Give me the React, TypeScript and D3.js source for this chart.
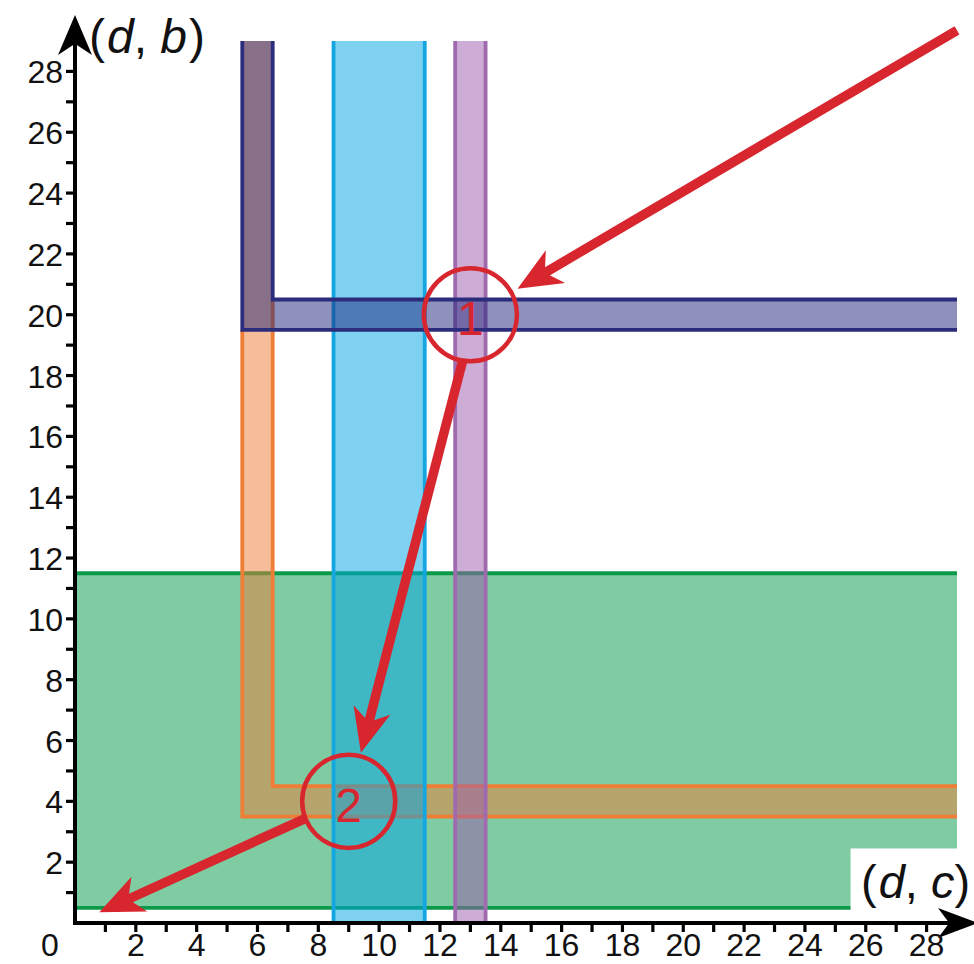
import React from "react"
import { scaleLinear, range, line } from "d3"

// value intervals on the (d,c) / (d,b) plane
const greenRows = [0.5, 11.5]
const cyanCols = [8.5, 11.5]
const purpleCols = [12.5, 13.5]
const orangeCorner = [5.5, 3.5]
const navyCorner = [5.5, 19.5]
const bandWidth = 1
const axisMax = 29

const circleCenters = [[13, 20], [9, 4]]
const circleLabels = ["1", "2"]
const circleRadius = 1.53

const arrowStarts = [[29, 29.35], [12.75, 18.5], [7.6, 3.45]]
const arrowEnds = [[14.55, 20.85], [9.4, 5.6], [0.8, 0.35]]

const minorTicks = range(1, 29)
const tickLabels = range(2, 29, 2)

const RED = "#d8262f"
const FONT = "'Liberation Sans', Arial, Helvetica, sans-serif"

function barbHead(tip: number[], from: number[], len: number, half: number) {
  const dx = tip[0] - from[0]
  const dy = tip[1] - from[1]
  const d = Math.hypot(dx, dy)
  const ux = dx / d, uy = dy / d
  const nx = -uy, ny = ux
  const bx = tip[0] - ux * len, by = tip[1] - uy * len
  const notch = [tip[0] - ux * len * 0.72, tip[1] - uy * len * 0.72]
  return {
    d: `M${tip[0]},${tip[1]} L${bx + nx * half},${by + ny * half} L${notch[0]},${notch[1]} L${bx - nx * half},${by - ny * half} Z`,
    notch
  }
}

export default function App() {
  const W = 974
  const H = 964
  const x = scaleLinear().domain([0, axisMax]).range([75, 957])
  const y = scaleLinear().domain([0, axisMax]).range([923, 41])
  const px = (v: number[]) => [x(v[0]), y(v[1])] as [number, number]
  const path = line<number[]>().x(d => x(d[0])).y(d => y(d[1]))

  const green = { fill: "#009a48", stroke: "#0c9a4a" }
  const cyan = { fill: "#00a3e6", stroke: "#14a6e1" }
  const orange = { fill: "#ec7b35", stroke: "#ee7d36" }
  const purple = { fill: "#9b5aab", stroke: "#a06aae" }
  const navy = { fill: "#1e2378", stroke: "#2b2c7c" }
  const bandStroke = 3.8

  // L-shaped band: vertical leg from corner up to the top, horizontal leg to the right edge
  const lShape = (c: number[], top: number) => [
    [c[0], top], [c[0], c[1]], [axisMax, c[1]], [axisMax, c[1] + bandWidth],
    [c[0] + bandWidth, c[1] + bandWidth], [c[0] + bandWidth, top]
  ]

  const yAxisHead = barbHead([x(0), 15], [x(0), 100], 40, 17)
  const xAxisHead = barbHead([978, y(0)], [900, y(0)], 40, 15)

  return (
    <svg width={W} height={H} style={{ position: "absolute", left: 0, top: 0, background: "white" }}>
      {/* green band */}
      <rect x={x(0)} y={y(greenRows[1])} width={x(axisMax) - x(0)} height={y(greenRows[0]) - y(greenRows[1])}
        fill={green.fill} fillOpacity={0.5} />
      {greenRows.map(v => (
        <line key={`g${v}`} x1={x(0)} x2={x(axisMax)} y1={y(v)} y2={y(v)} stroke={green.stroke} strokeWidth={bandStroke} />
      ))}

      {/* orange L */}
      <path d={path(lShape(orangeCorner, axisMax)) + "Z"} fill={orange.fill} fillOpacity={0.5} />
      <path d={path([[orangeCorner[0], navyCorner[1]], orangeCorner, [axisMax, orangeCorner[1]]])!} fill="none"
        stroke={orange.stroke} strokeWidth={bandStroke} />
      <path d={path([[orangeCorner[0] + bandWidth, navyCorner[1] + bandWidth], [orangeCorner[0] + bandWidth, orangeCorner[1] + bandWidth], [axisMax, orangeCorner[1] + bandWidth]])!}
        fill="none" stroke={orange.stroke} strokeWidth={bandStroke} />

      {/* cyan column */}
      <rect x={x(cyanCols[0])} y={y(axisMax)} width={x(cyanCols[1]) - x(cyanCols[0])} height={y(0) - y(axisMax)}
        fill={cyan.fill} fillOpacity={0.5} />
      {cyanCols.map(v => (
        <line key={`c${v}`} x1={x(v)} x2={x(v)} y1={y(0)} y2={y(axisMax)} stroke={cyan.stroke} strokeWidth={bandStroke} />
      ))}

      {/* purple column */}
      <rect x={x(purpleCols[0])} y={y(axisMax)} width={x(purpleCols[1]) - x(purpleCols[0])} height={y(0) - y(axisMax)}
        fill={purple.fill} fillOpacity={0.5} />
      {purpleCols.map(v => (
        <line key={`p${v}`} x1={x(v)} x2={x(v)} y1={y(0)} y2={y(axisMax)} stroke={purple.stroke} strokeWidth={bandStroke} />
      ))}

      {/* navy L */}
      <path d={path(lShape(navyCorner, axisMax)) + "Z"} fill={navy.fill} fillOpacity={0.5} />
      <path d={path([[navyCorner[0], axisMax], navyCorner, [axisMax, navyCorner[1]]])!} fill="none"
        stroke={navy.stroke} strokeWidth={bandStroke} />
      <path d={path([[navyCorner[0] + bandWidth, axisMax], [navyCorner[0] + bandWidth, navyCorner[1] + bandWidth], [axisMax, navyCorner[1] + bandWidth]])!}
        fill="none" stroke={navy.stroke} strokeWidth={bandStroke} />

      {/* (d,c) label box */}
      <rect x={x(25.5)} y={y(2.45)} width={W - x(25.5)} height={y(0.3) - y(2.45)} fill="white" />
      <text x={861} y={898} fontFamily={FONT} fontSize={47} fill="#111">
        (<tspan fontStyle="italic" dx={2}>d</tspan>, <tspan fontStyle="italic">c</tspan>)
      </text>
      <text x={89} y={53} fontFamily={FONT} fontSize={48} fill="#111">
        (<tspan fontStyle="italic" dx={2}>d</tspan>, <tspan fontStyle="italic">b</tspan><tspan dx={2}>)</tspan>
      </text>

      {/* axes */}
      <line x1={x(0)} x2={x(0)} y1={y(0) + 1.5} y2={yAxisHead.notch[1]} stroke="black" strokeWidth={4} />
      <path d={yAxisHead.d} fill="black" />
      <line x1={x(0) - 2} x2={xAxisHead.notch[0]} y1={y(0)} y2={y(0)} stroke="black" strokeWidth={4} />
      <path d={xAxisHead.d} fill="black" />
      {minorTicks.map(t => (
        <g key={`t${t}`}>
          <line x1={x(0) - 9} x2={x(0)} y1={y(t)} y2={y(t)} stroke="black" strokeWidth={3.2} />
          <line x1={x(t)} x2={x(t)} y1={y(0)} y2={y(0) + 9} stroke="black" strokeWidth={3.2} />
        </g>
      ))}
      {tickLabels.map(t => (
        <g key={`l${t}`} fontFamily={FONT} fontSize={32} fill="#111">
          <text x={x(0) - 12} y={y(t) + 1} textAnchor="end" dominantBaseline="central">{t}</text>
          <text x={x(t)} y={956} textAnchor="middle">{t}</text>
        </g>
      ))}
      <text x={x(0) - 25} y={956} textAnchor="middle" fontFamily={FONT} fontSize={32} fill="#111">0</text>

      {/* red arrows */}
      {arrowStarts.map((s, i) => {
        const a = px(s)
        const b = px(arrowEnds[i])
        const head = barbHead(b, a, 44, 19)
        return (
          <g key={`a${i}`}>
            <line x1={a[0]} y1={a[1]} x2={head.notch[0]} y2={head.notch[1]} stroke={RED} strokeWidth={9.5} />
            <path d={head.d} fill={RED} />
          </g>
        )
      })}

      {/* numbered circles */}
      {circleCenters.map((c, i) => (
        <g key={`c${i}`}>
          <circle cx={x(c[0])} cy={y(c[1])} r={x(circleRadius) - x(0)} fill="none" stroke={RED} strokeWidth={4.5} />
          <text x={x(c[0])} y={y(c[1]) + 4} textAnchor="middle" dominantBaseline="central"
            fontFamily={FONT} fontSize={48} fill={RED}>{circleLabels[i]}</text>
        </g>
      ))}
    </svg>
  )
}
